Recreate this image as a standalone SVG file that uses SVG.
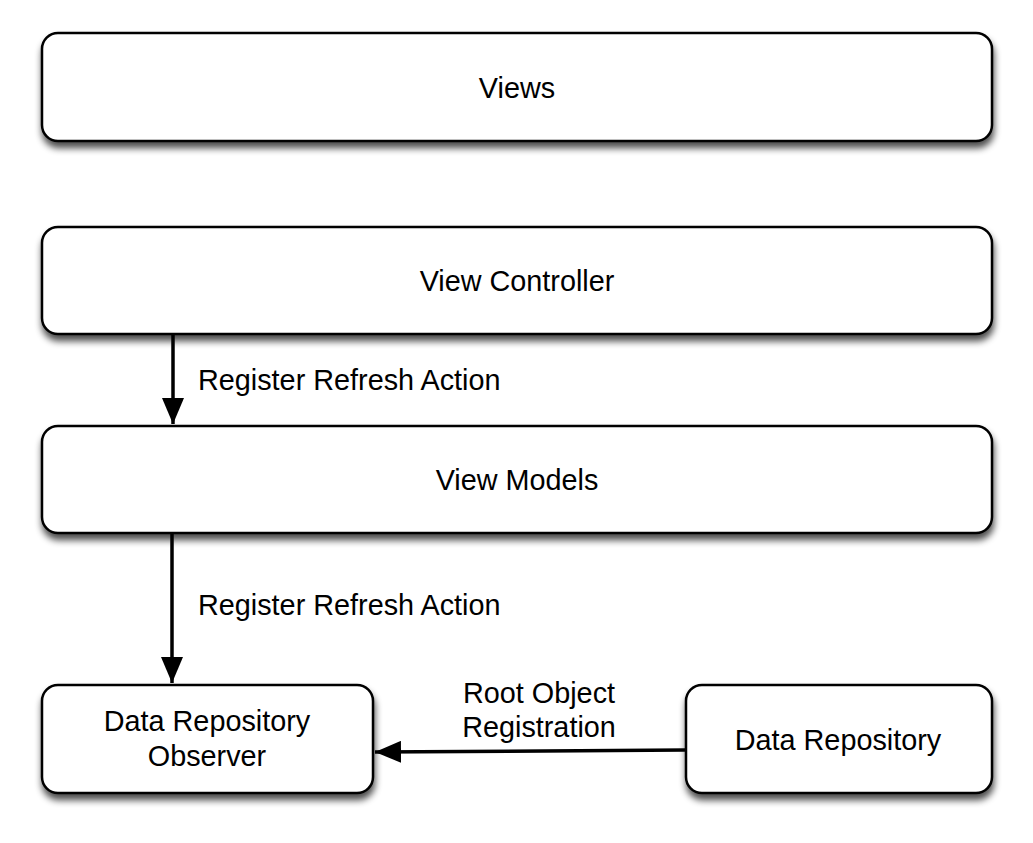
<svg xmlns="http://www.w3.org/2000/svg" width="1033" height="843" viewBox="0 0 1033 843">
<style>
.box{fill:#fff;stroke:#000;stroke-width:2.5;filter:url(#sh)}
.t{font-family:"Liberation Sans",Arial,sans-serif;font-size:28.8px;fill:#000}
.c{text-anchor:middle}
.edge{stroke:#000;stroke-width:3.5;fill:none;marker-end:url(#ah)}
</style>
<defs>
<filter id="sh" x="-10%" y="-20%" width="120%" height="150%">
<feGaussianBlur in="SourceAlpha" stdDeviation="3.5"/>
<feOffset dx="1" dy="6" result="b"/>
<feComponentTransfer><feFuncA type="linear" slope="0.7"/></feComponentTransfer>
<feMerge><feMergeNode/><feMergeNode in="SourceGraphic"/></feMerge>
</filter>
<marker id="ah" markerUnits="userSpaceOnUse" markerWidth="28" markerHeight="22" refX="26" refY="11" orient="auto">
<path d="M0,0 L26,11 L0,22 Z" fill="#000"/>
</marker>
</defs>
<rect width="1033" height="843" fill="#fff"/>
<g id="views"><rect class="box" x="42" y="33" width="950" height="108" rx="16"/><text class="t c" x="517" y="98">Views</text></g>
<g id="view-controller"><rect class="box" x="42" y="227" width="950" height="107" rx="16"/><text class="t c" x="517" y="291">View Controller</text></g>
<g id="view-models"><rect class="box" x="42" y="426" width="950" height="107" rx="16"/><text class="t c" x="517" y="490">View Models</text></g>
<g id="data-repository-observer"><rect class="box" x="42" y="685" width="331" height="108" rx="16"/><text class="t c" x="207" y="731">Data Repository</text><text class="t c" x="207" y="766">Observer</text></g>
<g id="data-repository"><rect class="box" x="686" y="685" width="306" height="108" rx="16"/><text class="t c" x="838" y="750">Data Repository</text></g>
<g id="connectors">
<line class="edge" x1="173" y1="335" x2="173" y2="424"/>
<line class="edge" x1="172" y1="534" x2="172" y2="683"/>
<line class="edge" x1="685" y1="750" x2="375" y2="752"/>
<text class="t" x="198" y="390">Register Refresh Action</text>
<text class="t" x="198" y="615">Register Refresh Action</text>
<text class="t c" x="539" y="703">Root Object</text>
<text class="t c" x="539" y="737">Registration</text>
</g>
</svg>
